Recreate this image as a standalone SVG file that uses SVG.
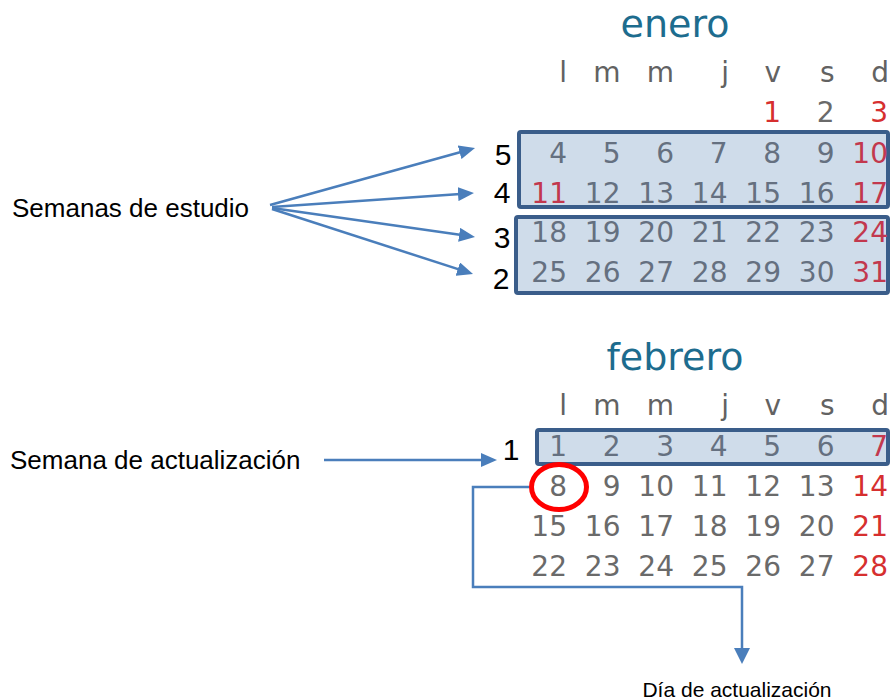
<svg xmlns="http://www.w3.org/2000/svg" width="890" height="700" viewBox="0 0 890 700">
<style>
.title{font-family:"DejaVu Sans",Verdana,sans-serif;font-size:38px;fill:#1D6C8E;text-anchor:middle}
.cal{font-family:"DejaVu Sans",Verdana,sans-serif;font-size:28px;text-anchor:end}
.g{fill:#6A6A6A}
.gs{fill:#657080}
.r{fill:#D62F2F}
.rs{fill:#C2384E}
.hd{fill:#626262}
.box{fill:#CFDCEA;stroke:#3A5D8A;stroke-width:4}
.lbl{font-family:"Liberation Sans",Arial,sans-serif;font-size:26px;fill:#000}
.num{font-family:"Liberation Sans",Arial,sans-serif;font-size:30px;fill:#000;text-anchor:middle}
.small{font-family:"Liberation Sans",Arial,sans-serif;font-size:21px;fill:#000;text-anchor:middle}
.conn{fill:none;stroke:#4A7EBB;stroke-width:2.5}
</style>
<defs>
<marker id="ah" markerUnits="userSpaceOnUse" markerWidth="16" markerHeight="14" refX="6" refY="7" orient="auto">
<path d="M0,0 L16,7 L0,14 Z" fill="#4A7EBB"/>
</marker>
<marker id="ah2" markerUnits="userSpaceOnUse" markerWidth="16" markerHeight="16" refX="6" refY="8" orient="auto">
<path d="M0,0 L16,8 L0,16 Z" fill="#4A7EBB"/>
</marker>
</defs>

<g id="enero">
<text class="title" x="675" y="37">enero</text>
<g class="cal hd">
<text x="567" y="82">l</text><text x="620.5" y="82">m</text><text x="674" y="82">m</text><text x="729" y="82">j</text><text x="781" y="82">v</text><text x="834.5" y="82">s</text><text x="889" y="82">d</text>
</g>
<g class="cal">
<text class="r" x="781" y="122">1</text><text class="g" x="834.5" y="122">2</text><text class="r" x="888" y="122">3</text>
</g>
</g>

<g id="semanas-5-4">
<rect class="box" x="519" y="132" width="369" height="75" rx="2"/>
<g class="cal">
<text class="gs" x="567" y="163">4</text><text class="gs" x="620.5" y="163">5</text><text class="gs" x="674" y="163">6</text><text class="gs" x="727.5" y="163">7</text><text class="gs" x="781" y="163">8</text><text class="gs" x="834.5" y="163">9</text><text class="rs" x="888" y="163">10</text>
<text class="rs" x="567" y="203">11</text><text class="gs" x="620.5" y="203">12</text><text class="gs" x="674" y="203">13</text><text class="gs" x="727.5" y="203">14</text><text class="gs" x="781" y="203">15</text><text class="gs" x="834.5" y="203">16</text><text class="rs" x="888" y="203">17</text>
</g>
</g>

<g id="semanas-3-2">
<rect class="box" x="516" y="217" width="372" height="76" rx="2"/>
<g class="cal">
<text class="gs" x="567" y="242">18</text><text class="gs" x="620.5" y="242">19</text><text class="gs" x="674" y="242">20</text><text class="gs" x="727.5" y="242">21</text><text class="gs" x="781" y="242">22</text><text class="gs" x="834.5" y="242">23</text><text class="rs" x="888" y="242">24</text>
<text class="gs" x="567" y="282">25</text><text class="gs" x="620.5" y="282">26</text><text class="gs" x="674" y="282">27</text><text class="gs" x="727.5" y="282">28</text><text class="gs" x="781" y="282">29</text><text class="gs" x="834.5" y="282">30</text><text class="rs" x="888" y="282">31</text>
</g>
</g>

<g id="week-labels">
<text class="num" x="503" y="165">5</text>
<text class="num" x="502" y="203">4</text>
<text class="num" x="502" y="248">3</text>
<text class="num" x="501" y="289">2</text>
<text class="num" x="511" y="460">1</text>
</g>

<g id="febrero">
<text class="title" x="675" y="370">febrero</text>
<g class="cal hd">
<text x="567" y="415">l</text><text x="620.5" y="415">m</text><text x="674" y="415">m</text><text x="729" y="415">j</text><text x="781" y="415">v</text><text x="834.5" y="415">s</text><text x="889" y="415">d</text>
</g>
<g class="cal">
<text class="g" x="567" y="496">8</text><text class="g" x="620.5" y="496">9</text><text class="g" x="674" y="496">10</text><text class="g" x="727.5" y="496">11</text><text class="g" x="781" y="496">12</text><text class="g" x="834.5" y="496">13</text><text class="r" x="888" y="496">14</text>
<text class="g" x="567" y="536">15</text><text class="g" x="620.5" y="536">16</text><text class="g" x="674" y="536">17</text><text class="g" x="727.5" y="536">18</text><text class="g" x="781" y="536">19</text><text class="g" x="834.5" y="536">20</text><text class="r" x="888" y="536">21</text>
<text class="g" x="567" y="576">22</text><text class="g" x="620.5" y="576">23</text><text class="g" x="674" y="576">24</text><text class="g" x="727.5" y="576">25</text><text class="g" x="781" y="576">26</text><text class="g" x="834.5" y="576">27</text><text class="r" x="888" y="576">28</text>
</g>
</g>

<g id="semana-actualizacion-box">
<rect class="box" x="537" y="430" width="351" height="34" rx="2"/>
<g class="cal">
<text class="gs" x="567" y="456">1</text><text class="gs" x="620.5" y="456">2</text><text class="gs" x="674" y="456">3</text><text class="gs" x="727.5" y="456">4</text><text class="gs" x="781" y="456">5</text><text class="gs" x="834.5" y="456">6</text><text class="rs" x="888" y="456">7</text>
</g>
</g>

<g id="dia-circulo">
<ellipse cx="559" cy="487" rx="27.5" ry="22.5" fill="none" stroke="#FF0000" stroke-width="5"/>
</g>

<g id="label-semanas-estudio">
<text class="lbl" x="12" y="217">Semanas de estudio</text>
</g>
<g id="label-semana-actualizacion">
<text class="lbl" x="10" y="469">Semana de actualización</text>
</g>
<g id="label-dia-actualizacion">
<text class="small" x="737" y="697">Día de actualización</text>
</g>

<g id="connectors">
<line class="conn" x1="270" y1="205" x2="465.4" y2="150.7" marker-end="url(#ah)"/>
<line class="conn" x1="272" y1="207" x2="464" y2="193.7" marker-end="url(#ah)"/>
<line class="conn" x1="272" y1="208" x2="465.1" y2="235.6" marker-end="url(#ah)"/>
<line class="conn" x1="272" y1="209" x2="463.5" y2="270.9" marker-end="url(#ah)"/>
<line class="conn" x1="324" y1="460" x2="487" y2="460" marker-end="url(#ah)"/>
<polyline class="conn" stroke-width="2" points="529,487 473,487 473,587 742,587 742,654" marker-end="url(#ah2)"/>
</g>
</svg>
